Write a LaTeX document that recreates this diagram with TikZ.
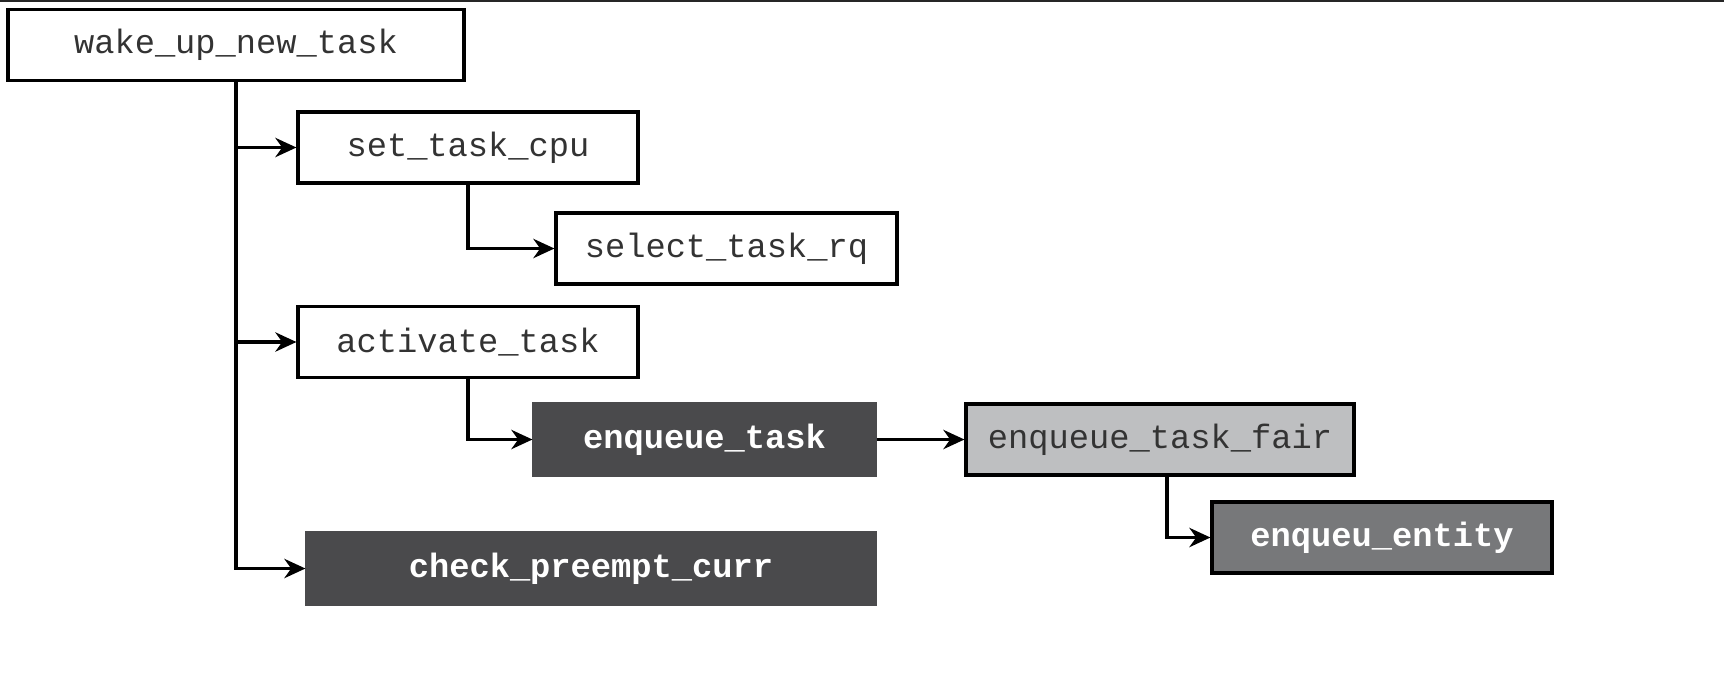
\documentclass[tikz,border=0pt]{standalone}
\usepackage{fontspec}
\setmonofont{Liberation Mono}
\usetikzlibrary{positioning, arrows.meta}
\definecolor{darkfill}{HTML}{4A4A4C}
\definecolor{lightfill}{HTML}{BEBFC1}
\definecolor{midfill}{HTML}{77787A}
\definecolor{inktext}{HTML}{333333}

\begin{document}
\begin{tikzpicture}[
    fn/.style={draw, line width=0.9pt, minimum height=0.71cm, inner sep=0pt,
        text=inktext, font=\ttfamily\fontsize{9.6}{11}\selectfont},
    fnlight/.style={fn, fill=lightfill},
    fndark/.style={fn, draw=darkfill, fill=darkfill, text=white, font=\ttfamily\bfseries\fontsize{9.6}{11}\selectfont},
    fnmid/.style={fn, fill=midfill, text=white, font=\ttfamily\bfseries\fontsize{9.6}{11}\selectfont},
    call/.style={line width=0.9pt, -{Stealth[length=6pt, width=5.5pt]}}
]
    \useasboundingbox (0,0) rectangle (17.24,-6.81);
    \draw[line width=0.6pt, black!85] (0,-0.01) -- (17.24,-0.01);

    \node[fn, minimum width=4.56cm] (wake) at (2.36,-0.45) {wake\_up\_new\_task};
    \node[fn, minimum width=3.40cm] (setcpu) at (4.68,-1.475) {set\_task\_cpu};
    \node[fn, minimum width=3.41cm] (selectrq) at (7.265,-2.485) {select\_task\_rq};
    \node[fn, minimum width=3.40cm] (activate) at (4.68,-3.42) {activate\_task};
    \node[fndark, minimum width=3.41cm] (enqtask) at (7.045,-4.395) {enqueue\_task};
    \node[fnlight, minimum width=3.88cm] (enqfair) at (11.60,-4.395) {enqueue\_task\_fair};
    \node[fnmid, minimum width=3.40cm] (entity) at (13.82,-5.375) {enqueu\_entity};
    \node[fndark, minimum width=5.68cm] (preempt) at (5.91,-5.685) {check\_preempt\_curr};

    % calls made by wake_up_new_task
    \draw[call] (wake.south) |- (setcpu.west);
    \draw[call] (wake.south) |- (activate.west);
    \draw[call] (wake.south) |- (preempt.west);

    \draw[call] (setcpu.south) |- (selectrq.west);
    \draw[call] (activate.south) |- (enqtask.west);
    \draw[call] (enqtask.east) -- (enqfair.west);
    \draw[call] ([xshift=0.07cm]enqfair.south) |- (entity.west);
\end{tikzpicture}
\end{document}
